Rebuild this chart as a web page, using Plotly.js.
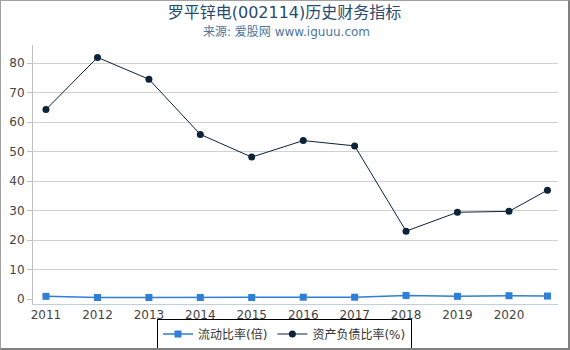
<!DOCTYPE html>
<html>
<head>
<meta charset="utf-8">
<script src="https://cdn.plot.ly/plotly-3.0.1.min.js"></script>
<style>
html,body{margin:0;padding:0;background:#fff;}
#frame{width:570px;height:350px;box-sizing:border-box;border-top:1px solid #a0a0a0;border-left:1px solid #a0a0a0;border-right:2px solid #808080;border-bottom:2px solid #808080;}
#chart{width:567px;height:347px;}
</style>
</head>
<body>
<div id="frame"><div id="chart"></div></div>
<script>
var dates = ['2011-12-31','2012-12-31','2013-12-31','2014-12-31','2015-12-31','2016-12-31','2017-12-31','2018-12-31','2019-12-31','2020-12-31','2021-09-30'];
var tickDates = ['2011-12-31','2012-12-31','2013-12-31','2014-12-31','2015-12-31','2016-12-31','2017-12-31','2018-12-31','2019-12-31','2020-12-31'];
var tickLabels = ['2011','2012','2013','2014','2015','2016','2017','2018','2019','2020'];
var currentRatio = [1.0, 0.6, 0.6, 0.6, 0.6, 0.7, 0.7, 1.3, 1.0, 1.2, 1.1];
var debtRatio = [64.3, 82.0, 74.6, 55.9, 48.2, 53.8, 52.0, 23.1, 29.5, 29.8, 37.0];
var yTicks = [0, 10, 20, 30, 40, 50, 60, 70, 80];
var seriesNames = ['流动比率(倍)', '资产负债比率(%)'];
var titleText = '罗平锌电(002114)历史财务指标';
var subtitleText = '来源: 爱股网 www.iguuu.com';

var FONT = 'DejaVu Sans, "Noto Sans CJK SC", sans-serif';

var traces = [
  {
    x: dates, y: currentRatio, name: seriesNames[0], type: 'scatter', mode: 'lines+markers',
    line: {color: '#2f7ed8', width: 1.5},
    marker: {symbol: 'square', size: 7, color: '#2f7ed8'}
  },
  {
    x: dates, y: debtRatio, name: seriesNames[1], type: 'scatter', mode: 'lines+markers',
    line: {color: '#0d233a', width: 1},
    marker: {symbol: 'circle', size: 7, color: '#0d233a'}
  }
];

var layout = {
  width: 567, height: 347,
  margin: {l: 32, r: 10, t: 44, b: 44},
  paper_bgcolor: '#ffffff', plot_bgcolor: '#ffffff',
  font: {family: FONT, size: 12, color: '#333333'},
  title: {
    text: titleText,
    font: {family: FONT, size: 16, color: '#274b6d'},
    x: 0.5, xanchor: 'center', xref: 'container',
    y: 0.966, yanchor: 'middle', yref: 'container'
  },
  annotations: [{
    text: subtitleText, showarrow: false,
    xref: 'paper', yref: 'paper', x: 0.482, y: 1.052, xanchor: 'center', yanchor: 'middle',
    font: {family: FONT, size: 12, color: '#4d759e'}
  }],
  xaxis: {
    type: 'date',
    range: ['2011-09-30', '2021-12-14'],
    tickmode: 'array', tickvals: tickDates, ticktext: tickLabels,
    showgrid: false, zeroline: false,
    showline: true, linecolor: '#c0d0e0', linewidth: 1,
    ticks: '', tickfont: {family: FONT, size: 12, color: '#444444'}
  },
  yaxis: {
    range: [-1.6, 86.2],
    tickmode: 'array', tickvals: yTicks,
    showgrid: true, gridcolor: '#d0d0d0', gridwidth: 1,
    zeroline: true, zerolinecolor: 'rgba(0,0,0,0)',
    showline: true, linecolor: '#c0c0c0', linewidth: 1,
    ticks: 'outside', ticklen: 5, tickcolor: '#c0c0c0',
    tickfont: {family: FONT, size: 12, color: '#444444'}
  },
  showlegend: true,
  legend: {
    orientation: 'h', x: 0.5, xanchor: 'center', xref: 'container',
    y: 0.085, yanchor: 'top', yref: 'container',
    bordercolor: '#000000', borderwidth: 1, bgcolor: '#ffffff',
    font: {family: FONT, size: 12, color: '#333333'},
    itemwidth: 30, tracegroupgap: 0
  }
};

Plotly.newPlot('chart', traces, layout, {displayModeBar: false, staticPlot: true});
</script>
</body>
</html>
